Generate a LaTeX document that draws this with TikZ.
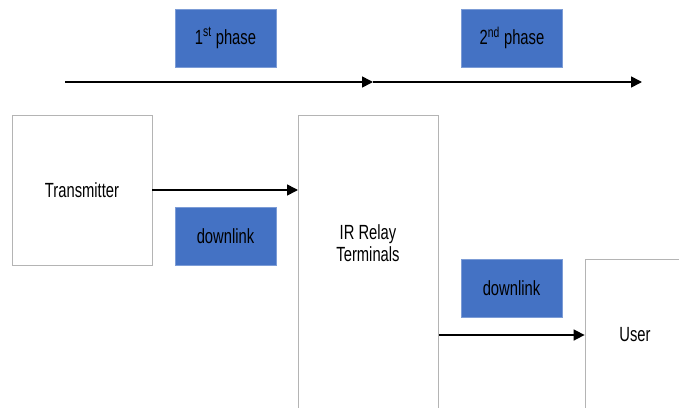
\documentclass[tikz,border=0pt]{standalone}
\usepackage{fontspec}
\setmainfont{Liberation Sans}[FakeStretch=0.72]
\usepackage{tikz}
\usepackage{xcolor}
\usetikzlibrary{arrows.meta, positioning}
\definecolor{PhaseBlue}{HTML}{4472C4}
\definecolor{BoxGrey}{HTML}{B4B4B4}

\begin{document}
\begin{tikzpicture}[
                x=1pt, y=1pt,
                every node/.style={font=\fontsize{20.5}{22}\selectfont, align=center},
                block/.style={draw=BoxGrey, line width=0.8pt, fill=white, inner sep=0pt},
                tag/.style={draw=PhaseBlue!70!white, line width=0.8pt, fill=PhaseBlue, minimum width=101, minimum height=58, inner sep=0pt},
                link/.style={-{Triangle[length=11pt, width=11pt]}, line width=1.6pt}
            ]

            \useasboundingbox (0,0) rectangle (679,-407);
            \clip (0,0) rectangle (679,-407);

            % time line
            \coordinate (t0) at (65,-82);
            \coordinate (t1) at (373,-82);
            \coordinate (t2) at (642,-82);
            \node[tag] (phase1) at (225.5,-38) {1\textsuperscript{st} phase};
            \node[tag] (phase2) at (512,-38) {2\textsuperscript{nd} phase};
            \draw[link] (t0) -- (t1);
            \draw[link] (t1) -- (t2);

            \node[block, minimum width=140, minimum height=150] (tx) at (82,-190) {Transmitter};
            \node[block, minimum width=140, minimum height=310, anchor=north west] (relay) at (298,-115) {};
            \node (relaytext) at (368,-243) {IR Relay\\Terminals};
            \node[block, minimum width=100, minimum height=152] (user) at (635,-335) {User};

            \node[tag] (down1) at (225.5,-236) {downlink};
            \node[tag] (down2) at (511.5,-288) {downlink};

            \draw[link] (tx.east) -- (relay.west |- tx.east);
            \draw[link] (relay.east |- user.west) -- (user.west);

        \end{tikzpicture}
\end{document}
